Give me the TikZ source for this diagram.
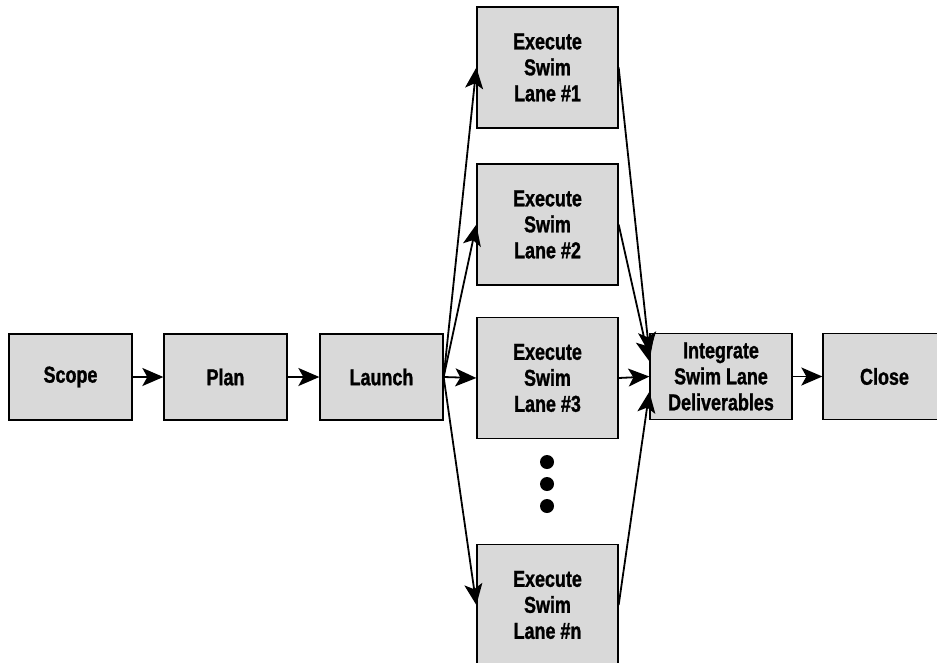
\documentclass[tikz,border=0pt]{standalone}
\usepackage{fontspec}
\setmainfont{Liberation Sans}[FakeStretch=0.78, FakeBold=1.2]
\usetikzlibrary{arrows.meta}

\begin{document}
\begin{tikzpicture}[
                x=1pt, y=-1pt,
                box/.style={draw, fill=black!15, line width=1.3pt, align=center,
                    font=\bfseries\fontsize{23}{26}\selectfont,
                    minimum width=123pt, minimum height=86pt, inner sep=0pt},
                lane/.style={box, minimum width=141pt, minimum height=121pt},
                wide/.style={box, minimum width=142pt},
                arr/.style={line width=1.8pt, -{Stealth[length=21pt, width=18pt, inset=5pt]}},
                dot/.style={circle, fill=black, inner sep=0pt, minimum size=14pt}
            ]

                % Frame of the picture
                \clip (0,0) rectangle (937,662);

                % Main sequence of phases
                \node[box] (scope) at (70.5,377) {Scope};
                \node[box] (plan) at (225.5,377) {Plan};
                \node[box] (launch) at (381.5,377) {Launch};

                % The swim lanes
                \node[lane] (lane1) at (547.5,67.5) {Execute\\Swim\\Lane \#1};
                \node[lane] (lane2) at (547.5,224.5) {Execute\\Swim\\Lane \#2};
                \node[lane] (lane3) at (547.5,378) {Execute\\Swim\\Lane \#3};
                \node[lane] (lanen) at (547.5,605) {Execute\\Swim\\Lane \#n};

                % Dots between lane 3 and lane n
                \node[dot] (d1) at (547,462) {};
                \node[dot] (d2) at (547,484) {};
                \node[dot] (d3) at (547,506) {};

                % Closing phases
                \node[wide] (integ) at (721,376.5) {Integrate\\Swim Lane\\Deliverables};
                \node[box] (close) at (884.5,376.5) {Close};

                % Straight arrows along the sequence
                \draw[arr] (scope) -- (plan);
                \draw[arr] (plan) -- (launch);
                \draw[arr] (integ) -- (close);

                % Fan out from launch to the lanes
                \draw[arr] (launch.east) -- (lane1.west);
                \draw[arr] (launch.east) -- (lane2.west);
                \draw[arr] (launch.east) -- (lane3.west);
                \draw[arr] (launch.east) -- (lanen.west);

                % Fan in from the lanes to integration
                \draw[arr] (lane1.east) -- (integ.162);
                \draw[arr] (lane2.east) -- (integ.168);
                \draw[arr] (lane3.east) -- (integ.west);
                \draw[arr] (lanen.east) -- (integ.192);

            \end{tikzpicture}
\end{document}
